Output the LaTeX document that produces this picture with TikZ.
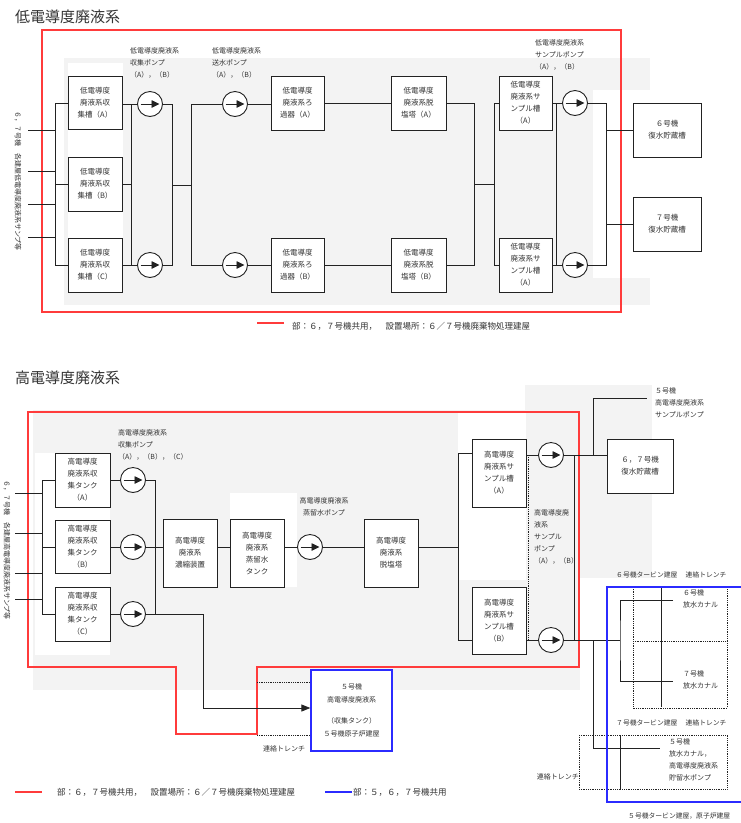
\documentclass[tikz,border=0pt]{standalone}
\usepackage{fontspec}
\setmainfont{Noto Sans CJK JP}
\usetikzlibrary{arrows.meta}
\definecolor{ln}{HTML}{222222}
\definecolor{bg}{HTML}{F3F3F3}
\definecolor{rd}{HTML}{FF3B3B}
\definecolor{bl}{HTML}{2B2BFF}
\definecolor{tx}{HTML}{333333}
\tikzset{
 tank/.style={draw=ln, line width=0.9pt, fill=white, inner sep=0pt, align=center, text=tx, font=\fontsize{7.5}{12}\selectfont},
 pump/.style={circle, draw=ln, line width=0.9pt, fill=white, minimum size=25pt, inner sep=0pt,
   path picture={\draw[ln, line width=0.9pt, -{Triangle[length=8pt,width=7.5pt]}] ([xshift=3pt]path picture bounding box.west) -- ([xshift=-3pt]path picture bounding box.east);}},
 pipe/.style={draw=ln, line width=0.8pt},
 dots/.style={draw=ln, line width=0.8pt, densely dotted},
 lbl/.style={inner sep=0pt, align=left, text=tx, font=\fontsize{7}{12}\selectfont},
 title/.style={inner sep=0pt, text=tx, font=\fontsize{15}{18}\selectfont},
 legend/.style={inner sep=0pt, text=tx, font=\fontsize{8.5}{10}\selectfont},
 redline/.style={draw=rd, line width=1.3pt},
 blueline/.style={draw=bl, line width=1.3pt},
}
\begin{document}
\begin{tikzpicture}[x=1pt,y=-1pt]
\useasboundingbox (0,0) rectangle (740,823);
\fill[white] (0,0) rectangle (740,823);
% ---------- backgrounds
\fill[bg] (64,58) rectangle (650,305);
\fill[white] (68,63) rectangle (123,292);
\fill[white] (593,90) rectangle (650,278);
\fill[bg] (33,410) rectangle (580,690);
\fill[bg] (525,385) rectangle (652,578);
\fill[white] (35,453) rectangle (110,655);
\fill[white] (230,493) rectangle (297,587);
\fill[white] (458,413) rectangle (526,580);

% ================= LOW CONDUCTIVITY =================
\node[title, anchor=west] (t1) at (15,17) {低電導度廃液系};
\draw[redline] (42,30) rectangle (621,312);

\node[lbl, rotate=-90] (vt1) at (18,181) {６，７号機　各建屋低電導度廃液系サンプ等};

\node[tank, minimum width=54pt, minimum height=53pt] (ltA) at (95,103) {低電導度\\廃液系収\\集槽（A）};
\node[tank, minimum width=54pt, minimum height=54pt] (ltB) at (95,184) {低電導度\\廃液系収\\集槽（B）};
\node[tank, minimum width=54pt, minimum height=54pt] (ltC) at (95,265) {低電導度\\廃液系収\\集槽（C）};

\coordinate (tin1) at (28,130);
\coordinate (tin2) at (28,171);
\coordinate (tin3) at (28,204);
\coordinate (tin4) at (28,237);
\coordinate (tbus) at (55,0);
\foreach \i in {1,...,4} \draw[pipe] (tin\i) -- (tin\i -| tbus);
\draw[pipe] (ltA.west) -- (ltA.west -| tbus) -- (ltC.west -| tbus) -- (ltC.west);
\draw[pipe] (ltB.west) -- (ltB.west -| tbus);

\node[pump] (cpA) at (150,104) {};
\node[pump] (cpB) at (150,265) {};
\node[lbl, anchor=north west] (cpl) at (130,47) {低電導度廃液系\\収集ポンプ\\（A），（B）};
\coordinate (tx1) at (131,0);
\coordinate (tx2) at (172,0);
\coordinate (tx3) at (191,0);
\draw[pipe] (ltA.east |- cpA) -- (cpA.west);
\draw[pipe] (ltC.east |- cpB) -- (cpB.west);
\draw[pipe] (cpA.west -| tx1) -- (cpB.west -| tx1);
\draw[pipe] (ltB.east) -- (ltB.east -| tx1);
\draw[pipe] (cpA.east) -- (cpA.east -| tx2) -- (cpB.east -| tx2) -- (cpB.east);
\coordinate (tm1) at (172,185);
\draw[pipe] (tm1) -- (tm1 -| tx3);

\node[pump] (tpA) at (235,104) {};
\node[pump] (tpB) at (235,265) {};
\node[lbl, anchor=north west] (tpl) at (212,47) {低電導度廃液系\\送水ポンプ\\（A），（B）};
\draw[pipe] (tpA.west) -- (tpA.west -| tx3) -- (tpB.west -| tx3) -- (tpB.west);

\node[tank, minimum width=53pt, minimum height=54pt] (fA) at (297.5,103) {低電導度\\廃液系ろ\\過器（A）};
\node[tank, minimum width=53pt, minimum height=54pt] (fB) at (297.5,265) {低電導度\\廃液系ろ\\過器（B）};
\draw[pipe] (tpA.east) -- (tpA.east -| fA.west);
\draw[pipe] (tpB.east) -- (tpB.east -| fB.west);

\node[tank, minimum width=55pt, minimum height=54pt] (dA) at (418.5,103) {低電導度\\廃液系脱\\塩塔（A）};
\node[tank, minimum width=55pt, minimum height=54pt] (dB) at (418.5,265) {低電導度\\廃液系脱\\塩塔（B）};
\draw[pipe] (fA.east) -- (dA.west);
\draw[pipe] (fB.east) -- (dB.west);

\coordinate (tx4) at (474,0);
\coordinate (tx5) at (494,0);
\draw[pipe] (dA.east) -- (dA.east -| tx4) -- (dB.east -| tx4) -- (dB.east);
\coordinate (tm2) at (474,184);
\draw[pipe] (tm2) -- (tm2 -| tx5);

\node[tank, minimum width=53pt, minimum height=54pt] (sA) at (525.5,103) {低電導度\\廃液系サ\\ンプル槽\\（A）};
\node[tank, minimum width=53pt, minimum height=54pt] (sB) at (525.5,265) {低電導度\\廃液系サ\\ンプル槽\\（A）};
\draw[pipe] (sA.west) -- (sA.west -| tx5) -- (sB.west -| tx5) -- (sB.west);

\node[pump] (spA) at (575,103) {};
\node[pump] (spB) at (575,265) {};
\node[lbl, anchor=north west] (spl) at (535,39) {低電導度廃液系\\サンプルポンプ\\（A），（B）};
\coordinate (tx6) at (556,0);
\coordinate (tx7) at (606,0);
\draw[pipe] (sA.east) -- (spA.west);
\draw[pipe] (sB.east) -- (spB.west);
\draw[pipe] (sA.east -| tx6) -- (sB.east -| tx6);
\draw[pipe] (spA.east) -- (spA.east -| tx7) -- (spB.east -| tx7) -- (spB.east);

\node[tank, minimum width=68pt, minimum height=54pt] (c6) at (667,130) {６号機\\復水貯蔵槽};
\node[tank, minimum width=68pt, minimum height=54pt] (c7) at (667,224) {７号機\\復水貯蔵槽};
\draw[pipe] (c6.west) -- (c6.west -| tx7);
\draw[pipe] (c7.west) -- (c7.west -| tx7);

\draw[redline] (257,323) -- (284,323);
\node[legend, anchor=west] (lg1) at (292,326) {部：６，７号機共用，　設置場所：６／７号機廃棄物処理建屋};

% ================= HIGH CONDUCTIVITY =================
\node[title, anchor=west] (t2) at (15,378) {高電導度廃液系};
\draw[redline] (28,412) -- (579,412) -- (579,667) -- (257,667) -- (257,734) -- (176,734) -- (176,667) -- (28,667) -- cycle;

\node[lbl, rotate=-90] (vt2) at (7,550) {６，７号機　各建屋高電導度廃液系サンプ等};

\node[tank, minimum width=55pt, minimum height=54pt] (htA) at (82.5,480) {高電導度\\廃液系収\\集タンク\\（A）};
\node[tank, minimum width=55pt, minimum height=53pt] (htB) at (82.5,547) {高電導度\\廃液系収\\集タンク\\（B）};
\node[tank, minimum width=55pt, minimum height=54pt] (htC) at (82.5,614) {高電導度\\廃液系収\\集タンク\\（C）};

\coordinate (hin1) at (15,493);
\coordinate (hin2) at (15,533);
\coordinate (hin3) at (15,573);
\coordinate (hin4) at (15,599);
\coordinate (hbus) at (42,0);
\foreach \i in {1,...,4} \draw[pipe] (hin\i) -- (hin\i -| hbus);
\draw[pipe] (htA.west) -- (htA.west -| hbus) -- (htC.west -| hbus) -- (htC.west);
\draw[pipe] (htB.west) -- (htB.west -| hbus);

\node[pump] (hpA) at (133,480) {};
\node[pump] (hpB) at (133,547) {};
\node[pump] (hpC) at (133,614) {};
\node[lbl, anchor=north west] (hpl) at (118,429) {高電導度廃液系\\収集ポンプ\\（A），（B），（C）};
\draw[pipe] (htA.east) -- (hpA.west);
\draw[pipe] (htB.east) -- (hpB.west);
\draw[pipe] (htC.east) -- (hpC.west);
\coordinate (hx1) at (155,0);
\draw[pipe] (hpA.east) -- (hpA.east -| hx1) -- (hpC.east -| hx1) -- (hpC.east);
\draw[pipe] (hpB.east) -- (hpB.east -| hx1);

\node[tank, minimum width=54pt, minimum height=68pt] (conc) at (190,553) {高電導度\\廃液系\\濃縮装置};
\node[tank, minimum width=54pt, minimum height=68pt] (dist) at (257,553) {高電導度\\廃液系\\蒸留水\\タンク};
\coordinate (hm1) at (155,547);
\draw[pipe] (hm1) -- (hm1 -| conc.west);
\draw[pipe] (conc.east |- hm1) -- (dist.west |- hm1);

\node[pump] (dp) at (310,547) {};
\node[lbl, align=center] (dpl) at (324,507) {高電導度廃液系\\蒸留水ポンプ};
\draw[pipe] (dist.east |- dp) -- (dp.west);

\node[tank, minimum width=54pt, minimum height=68pt] (hd) at (391,553) {高電導度\\廃液系\\脱塩塔};
\draw[pipe] (dp.east) -- (dp.east -| hd.west);

\coordinate (hx2) at (458,0);
\draw[pipe] (hd.east |- hm1) -- (hm1 -| hx2);
\node[tank, minimum width=54pt, minimum height=68pt] (hsA) at (499,473) {高電導度\\廃液系サ\\ンプル槽\\（A）};
\node[tank, minimum width=54pt, minimum height=67pt] (hsB) at (499,620.5) {高電導度\\廃液系サ\\ンプル槽\\（B）};
\coordinate (hjA) at (458,453);
\coordinate (hjB) at (458,640);
\draw[pipe] (hsA.west |- hjA) -- (hjA) -- (hjB) -- (hsB.west |- hjB);

\node[pump] (hspA) at (551,455) {};
\node[pump] (hspB) at (551,640) {};
\node[lbl, anchor=north west] (hspl) at (534,509) {高電導度廃\\液系\\サンプル\\ポンプ\\（A），（B）};
\draw[pipe] (hsA.east |- hspA) -- (hspA.west);
\draw[pipe] (hsB.east |- hspB) -- (hspB.west);
\coordinate (hx3) at (528,0);
\coordinate (hx4) at (574,0);
\draw[dots] (hspA -| hx3) -- (hspB -| hx3);
\draw[pipe] (hspA.east -| hx4) -- (hspB.east -| hx4);

\node[tank, minimum width=66pt, minimum height=54pt] (cst) at (640,466) {６，７号機\\復水貯蔵槽};
\draw[pipe] (hspA.east) -- (hspA.east -| cst.west);
\coordinate (hj5) at (593,455);
\coordinate (p5) at (647,398);
\draw[pipe] (hj5) |- (p5);
\node[lbl, anchor=north west] (p5l) at (655,387) {５号機\\高電導度廃液系\\サンプルポンプ};

% right buildings
\draw[dots] (633,587) rectangle (727,708);
\draw[dots] (633,641) -- (727,641);
\draw[dots] (579,735) rectangle (727,789);
\draw[pipe] (661,587) -- (661,707);
\draw[pipe] (620,735) -- (620,789);

\coordinate (hj6) at (620,640);
\coordinate (hj7) at (593,640);
\coordinate (o5) at (660,748);
\coordinate (o6) at (673,600);
\coordinate (o7) at (673,681);
\draw[pipe] (hspB.east) -- (hj6);
\draw[pipe] (hj7) |- (o5);
\draw[pipe] (o6) -| (hj6) |- (o7);

\draw[blueline] (607,587) rectangle (748,802);

\node[lbl, anchor=west, font=\fontsize{6.8}{12}\selectfont] (b6) at (616,575) {６号機タービン建屋　 連絡トレンチ};
\node[lbl, anchor=north west] (k6) at (683,589) {６号機\\放水カナル};
\node[lbl, anchor=north west] (k7) at (683,670) {７号機\\放水カナル};
\node[lbl, anchor=west, font=\fontsize{6.8}{12}\selectfont] (b7) at (616,723) {７号機タービン建屋　 連絡トレンチ};
\node[lbl, anchor=north west] (k5) at (669,738) {５号機\\放水カナル，\\高電導度廃液系\\貯留水ポンプ};
\node[lbl, anchor=east] (tr1) at (579,777) {連絡トレンチ};
\node[lbl, anchor=west, font=\fontsize{6.8}{12}\selectfont] (b5) at (628,816) {５号機タービン建屋，原子炉建屋};

% unit 5 collection tank
\node[tank, draw=bl, line width=1.3pt, minimum width=81pt, minimum height=81pt, font=\fontsize{7}{12.5}\selectfont] (u5) at (351.5,710.5) {５号機\\高電導度廃液系\\[9pt]（収集タンク）\\５号機原子炉建屋};
\draw[dots] (257,682) -- (u5.west |- 0,682);
\draw[dots] (257,735) -- (u5.west |- 0,735);
\node[lbl, anchor=west] (tr2) at (263,749) {連絡トレンチ};
\coordinate (ha) at (203,708);
\draw[pipe, -{Triangle[length=9pt,width=7pt]}] (hpC.east -| hx1) -| (ha) -- (ha -| u5.west);

% legend
\draw[redline] (15,792) -- (42,792);
\node[legend, anchor=west] (lg2) at (57,792) {部：６，７号機共用，　設置場所：６／７号機廃棄物処理建屋};
\draw[blueline] (325,792) -- (352,792);
\node[legend, anchor=west] (lg3) at (353,792) {部：５，６，７号機共用};
\end{tikzpicture}
\end{document}
